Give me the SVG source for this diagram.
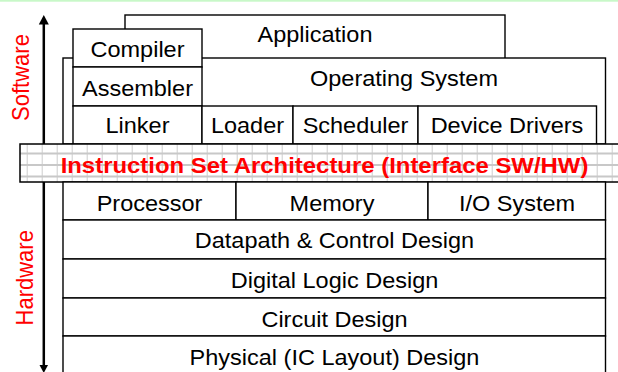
<svg xmlns="http://www.w3.org/2000/svg" width="618" height="372" viewBox="0 0 618 372">
<defs>
<style>
.box{fill:#fff;stroke:#000;stroke-width:1.4}
.t{font-family:"Liberation Sans",Arial,Helvetica,sans-serif;font-size:22px;fill:#000;text-anchor:middle}
.red{fill:#ff0000}
.isa{font-weight:bold;fill:#ff0000;font-size:22.4px}
.grid{stroke:#c8c8c8;stroke-width:1.8}
</style>
<pattern id="gridpat" x="26.7" y="0" width="15" height="372" patternUnits="userSpaceOnUse">
<line x1="0" y1="0" x2="0" y2="372" class="grid"/>
</pattern>
</defs>
<rect x="0" y="0" width="618" height="372" fill="#fff"/>
<rect x="0" y="0" width="618" height="1.7" fill="#c8f8c8"/>

<g id="connectors">
<line x1="43.8" y1="22" x2="43.8" y2="367" stroke="#000" stroke-width="2.5"/>
<polygon points="43.8,15 38.8,24.5 48.8,24.5" fill="#000"/>
<polygon points="39.5,365 48,365 43.8,373" fill="#000"/>
</g>

<g id="label-software">
<text class="t red" font-size="23.2" transform="translate(29.3,77.5) scale(1.068,1) rotate(-90)" x="0" y="0">Software</text>
</g>
<g id="label-hardware">
<text class="t red" font-size="23.2" transform="translate(33.3,277.8) scale(1.068,1) rotate(-90)" x="0" y="0">Hardware</text>
</g>

<g id="application">
<rect class="box" x="125" y="15" width="380" height="50"/>
<text class="t" transform="translate(315,42) scale(1.068,1)">Application</text>
</g>
<g id="operating-system">
<rect class="box" x="63" y="58" width="542.5" height="86"/>
<text class="t" transform="translate(404,86) scale(1.068,1)">Operating System</text>
</g>
<g id="compiler">
<rect class="box" x="73" y="29" width="129" height="38"/>
<text class="t" transform="translate(137.5,57) scale(1.068,1)">Compiler</text>
</g>
<g id="assembler">
<rect class="box" x="73" y="67" width="129" height="39"/>
<text class="t" transform="translate(137.5,95.7) scale(1.068,1)">Assembler</text>
</g>
<g id="linker">
<rect class="box" x="73" y="106" width="129" height="38"/>
<text class="t" transform="translate(137.5,133.3) scale(1.068,1)">Linker</text>
</g>
<g id="loader">
<rect class="box" x="202" y="106" width="91" height="38"/>
<text class="t" transform="translate(247.5,133.3) scale(1.068,1)">Loader</text>
</g>
<g id="scheduler">
<rect class="box" x="293" y="106" width="125" height="38"/>
<text class="t" transform="translate(355.5,133.3) scale(1.068,1)">Scheduler</text>
</g>
<g id="device-drivers">
<rect class="box" x="418" y="106" width="178.5" height="38"/>
<text class="t" transform="translate(507,133.3) scale(1.068,1)">Device Drivers</text>
</g>

<g id="isa">
<rect x="20" y="144" width="610" height="38" fill="#fff"/>
<rect x="20" y="144" width="610" height="38" fill="url(#gridpat)"/>
<line x1="20" y1="153.5" x2="618" y2="153.5" class="grid"/>
<line x1="20" y1="165" x2="618" y2="165" class="grid"/>
<line x1="20" y1="176.5" x2="618" y2="176.5" class="grid"/>
<rect x="20" y="144" width="610" height="38" fill="none" stroke="#000" stroke-width="1.5"/>
<text class="t isa" transform="translate(324.5,172.7) scale(1.068,1)">Instruction Set Architecture (Interface SW/HW)</text>
</g>

<g id="processor">
<rect class="box" x="63" y="182" width="173" height="38"/>
<text class="t" transform="translate(149.5,211) scale(1.068,1)">Processor</text>
</g>
<g id="memory">
<rect class="box" x="236" y="182" width="192" height="38"/>
<text class="t" transform="translate(332,211) scale(1.068,1)">Memory</text>
</g>
<g id="io-system">
<rect class="box" x="428" y="182" width="177.5" height="38"/>
<text class="t" transform="translate(517,211) scale(1.068,1)">I/O System</text>
</g>
<g id="datapath">
<rect class="box" x="63" y="220" width="542.5" height="39"/>
<text class="t" transform="translate(334.5,248.3) scale(1.068,1)">Datapath &amp; Control Design</text>
</g>
<g id="digital-logic">
<rect class="box" x="63" y="259" width="542.5" height="39"/>
<text class="t" transform="translate(334.5,288.3) scale(1.068,1)">Digital Logic Design</text>
</g>
<g id="circuit">
<rect class="box" x="63" y="298" width="542.5" height="38"/>
<text class="t" transform="translate(334.5,326.7) scale(1.068,1)">Circuit Design</text>
</g>
<g id="physical">
<rect class="box" x="63" y="336" width="542.5" height="50"/>
<text class="t" transform="translate(334.5,365) scale(1.068,1)">Physical (IC Layout) Design</text>
</g>
</svg>
